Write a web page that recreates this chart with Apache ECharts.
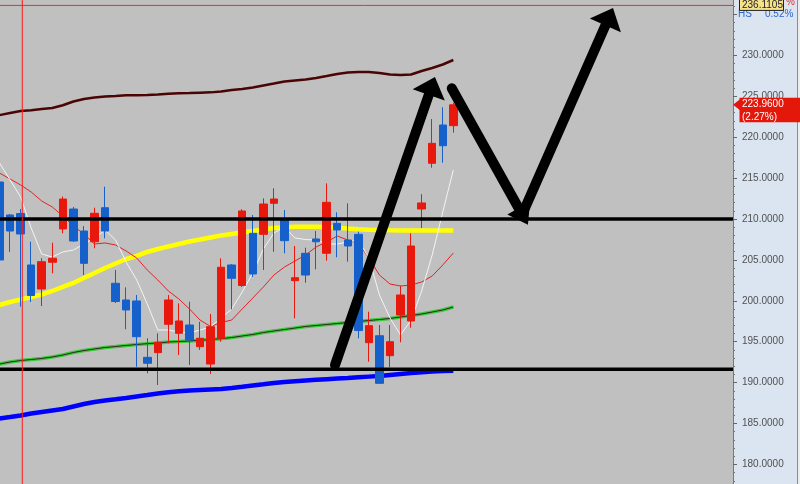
<!DOCTYPE html>
<html><head><meta charset="utf-8">
<script src="https://cdn.jsdelivr.net/npm/echarts@6/dist/echarts.min.js"></script>
<style>
html,body{margin:0;padding:0;background:#dbe5f1;overflow:hidden;width:800px;height:484px}
#c{position:absolute;left:-6px;top:-27px;width:806px;height:540px}
</style>
</head><body><div id="c"></div>
<script>
// ---- data ----
const categories = Array.from({length: 70}, (_, i) => 'D' + (i + 1));
const opens  = [214.52,210.49,210.67,204.38,201.44,204.71,208.78,211.22,208.53,207.22,211.38,202.14,200.10,199.98,193.09,193.66,197.13,196.03,197.04,194.39,192.27,195.42,204.38,201.87,208.25,208.13,211.92,209.88,202.46,205.81,207.56,205.81,209.47,207.43,208.13,194.88,195.73,193.29,198.26,197.53,211.22,216.81,221.49,221.41];
const closes = [204.99,208.53,208.17,200.65,204.78,205.20,212.44,207.31,204.58,210.70,208.53,199.91,198.88,195.61,192.36,194.93,200.10,197.53,195.21,195.42,196.83,204.10,202.75,210.98,203.28,211.83,212.44,207.35,202.82,203.15,207.22,212.04,208.66,206.70,196.36,196.96,189.91,195.00,200.71,206.70,211.96,219.25,218.96,223.96];
const lows   = [204.60,205.97,199.28,199.85,199.36,203.36,208.25,207.22,203.15,206.42,207.64,199.73,196.52,191.94,191.14,189.71,194.80,193.37,192.15,193.99,191.05,195.00,198.96,201.69,202.91,203.77,206.00,205.81,197.86,202.21,203.85,204.90,205.32,204.78,195.42,192.55,189.89,191.87,194.93,196.71,208.90,216.27,216.88,220.55];
const highs  = [215.20,210.61,211.22,207.22,205.20,207.10,212.75,211.47,209.14,211.38,213.95,203.77,201.65,200.71,195.42,196.03,200.71,199.69,199.89,197.44,198.39,205.20,204.50,211.19,210.49,212.53,213.75,211.10,206.70,206.49,208.53,214.36,210.82,211.92,208.45,198.67,197.04,197.04,201.85,208.25,213.03,222.22,223.66,224.22];
const maUpper  = [222.7,222.96,223.2,223.3,223.45,223.57,223.9,224.36,224.67,224.85,224.98,225.04,225.12,225.13,225.16,225.22,225.3,225.37,225.4,225.44,225.48,225.59,225.77,225.9,226.08,226.32,226.56,226.81,226.93,227.05,227.24,227.48,227.73,227.9,227.97,227.97,227.85,227.67,227.6,227.67,228.09,228.46,228.89,229.44];
const maYellow = [199.49,199.85,200.16,200.46,200.77,201.2,201.69,202.18,202.79,203.4,204.01,204.56,205.11,205.48,205.97,206.33,206.64,206.94,207.25,207.49,207.74,207.98,208.17,208.35,208.53,208.72,208.9,208.99,209.05,209.06,209.06,209.02,208.92,208.83,208.75,208.7,208.66,208.62,208.59,208.58,208.58,208.58,208.58,208.58];
const maGreen  = [192.27,192.52,192.7,192.82,192.95,193.13,193.37,193.68,193.92,194.11,194.29,194.41,194.54,194.66,194.76,194.84,194.96,195.02,195.09,195.17,195.27,195.37,195.51,195.7,195.88,196.12,196.31,196.49,196.67,196.86,196.98,197.1,197.22,197.35,197.47,197.59,197.71,197.84,198.02,198.2,198.39,198.63,198.88,199.24];
const maBlue   = [185.61,185.79,185.98,186.22,186.41,186.59,186.77,187.08,187.38,187.63,187.81,187.96,188.12,188.3,188.48,188.67,188.81,188.94,189.03,189.1,189.16,189.22,189.34,189.49,189.65,189.79,189.95,190.07,190.17,190.26,190.34,190.42,190.49,190.56,190.65,190.73,190.81,190.93,191.05,191.17,191.27,191.36,191.42,191.45];
const maRed    = [215.62,214.89,214.16,213.3,212.2,211.47,210.37,209.14,208.17,206.94,207.07,206.82,206.09,205.23,203.77,202.54,201.2,200.22,199.0,197.65,196.86,197.35,197.65,199.0,200.34,201.69,203.15,204.13,204.87,205.6,206.58,207.19,207.92,207.43,207.0,205.23,203.15,202.05,201.81,201.93,202.3,203.03,204.38,205.84];
const maWhite  = [216.85,214.77,212.69,208.9,205.72,205.35,205.97,206.21,206.94,207.68,208.66,207.43,204.74,202.54,199.61,196.43,196.43,196.19,196.06,196.43,196.8,197.9,199.0,201.08,203.4,206.33,208.29,209.02,207.68,207.49,207.43,206.94,206.94,207.19,207.43,205.23,200.71,197.9,195.82,197.65,201.2,205.6,210.86,215.99];
const levelHigh = 210.0;
const levelLow = 191.62;
const alertPrice = 236.1105;
const lastPrice = 223.96;
const lastChange = '(2.27%)';
const markerIndex = 2.16;
const arrowUp1  = [[31.79, 192.15], [41.26, 227.36]];
const arrowDown = [[42.85, 225.98], [50.07, 209.30]];
const arrowUp2  = [[49.50, 210.50], [58.13, 235.79]];
const yTickMin = 175, yTickMax = 240, yTickStep = 5, yLabelMax = 230;

// ---- chart ----
const OX = 6, OY = 27; // container offset relative to the page
const chart = echarts.init(document.getElementById('c'), null, {renderer: 'canvas'});
const candleData = opens.map((o, i) => [o, closes[i], lows[i], highs[i]]);
const nCat = categories.length;
const lineS = (data, color, width, z) => ({type: 'line', data, symbol: 'none', smooth: false, z,
  lineStyle: {color, width}, silent: true, animation: false});
const hline = (v, color, width, z) => ({type: 'line', xAxisIndex: 1, data: [[-0.5, v], [nCat - 0.5, v]],
  symbol: 'none', lineStyle: {color, width}, z, silent: true, animation: false});

chart.setOption({
  animation: false,
  backgroundColor: '#dbe5f1',
  grid: {left: 0.23, right: 67, top: 0.6, bottom: 7.7, show: true, backgroundColor: '#c0c0c0', borderWidth: 0},
  xAxis: [
    {type: 'category', data: categories, boundaryGap: true, show: false},
    {type: 'value', min: -0.5, max: nCat - 0.5, show: false}
  ],
  yAxis: {
    type: 'value', position: 'right', min: yTickMin, max: yTickMax, interval: yTickStep,
    axisLine: {show: true, onZero: false, lineStyle: {color: '#777', width: 1}},
    axisTick: {show: true, length: 4, lineStyle: {color: '#666'}},
    minorTick: {show: true, splitNumber: 5, length: 2, lineStyle: {color: '#777'}},
    splitLine: {show: false},
    axisLabel: {margin: 9, color: '#505050', fontSize: 10, fontFamily: 'Liberation Sans, Arial, sans-serif',
      formatter: v => (v > yLabelMax ? '' : v.toFixed(4))}
  },
  series: [
    lineS(maUpper, '#4a0404', 2.5, 2),
    lineS(maBlue, '#0000ff', 4.5, 2),
    lineS(maGreen, '#3cc83c', 3.5, 2),
    lineS(maGreen, '#2a2a1a', 1, 2),
    lineS(maYellow, '#ffff00', 4.5, 2),
    lineS(maRed, '#e42222', 1, 2),
    lineS(maWhite, '#f4f4f4', 1, 2),
    {type: 'candlestick', data: candleData, barWidth: 8, z: 3, silent: true, animation: false,
      itemStyle: {color: '#e8190c', color0: '#1660cc', borderColor: '#e8190c', borderColor0: '#1660cc', borderWidth: 1}},
    hline(levelHigh, '#000', 3.5, 4),
    hline(levelLow, '#000', 3.5, 4),
    hline(alertPrice, '#e63030', 1, 4),
    {type: 'line', xAxisIndex: 1, data: [[markerIndex, yTickMin], [markerIndex, yTickMax]], symbol: 'none',
      lineStyle: {color: '#ff1a1a', width: 1}, z: 4, silent: true, animation: false}
  ]
});

const px = p => [chart.convertToPixel({xAxisIndex: 1}, p[0]), chart.convertToPixel({yAxisIndex: 0}, p[1])];
function arrow(pts, L, W, lw) {
  const a = px(pts[0]), b = px(pts[1]);
  const dx = b[0] - a[0], dy = b[1] - a[1], len = Math.hypot(dx, dy);
  const ux = dx / len, uy = dy / len, nx = -uy, ny = ux;
  const bx = b[0] - ux * L, by = b[1] - uy * L;
  return [
    {type: 'line', z: 100, shape: {x1: a[0], y1: a[1], x2: bx + ux * 3, y2: by + uy * 3},
      style: {stroke: '#000', lineWidth: lw, lineCap: 'round'}},
    {type: 'polygon', z: 100, shape: {points: [b, [bx + nx * W, by + ny * W], [bx - nx * W, by - ny * W]]},
      style: {fill: '#000'}}
  ];
}
const yLast = px([0, lastPrice])[1];
const yAlert = px([0, alertPrice])[1];
const font = '10px "Liberation Sans", Arial, sans-serif';
const graphics = [].concat(
  arrow(arrowUp1, 19, 17, 10),
  arrow(arrowDown, 19, 13, 10),
  arrow(arrowUp2, 19, 17, 10),
  [
    {type: 'line', z: 50, shape: {x1: 797.5 + OX, y1: 0, x2: 797.5 + OX, y2: 540}, style: {stroke: '#8c8c8c', lineWidth: 1}},
    {type: 'rect', z: 50, shape: {x: 798 + OX, y: 0, width: 4, height: 540}, style: {fill: '#ececec'}},
    {type: 'text', z: 60, style: {x: 786 + OX, y: -3 + OY, text: '%', fill: '#e03030', font: font}},
    {type: 'text', z: 60, style: {x: 738 + OX, y: 9 + OY, text: 'HS', fill: '#2a66d0', font: font}},
    {type: 'text', z: 60, style: {x: 765 + OX, y: 9 + OY, text: '0.52%', fill: '#2a66d0', font: font}},
    {type: 'rect', z: 61, shape: {x: 739.5 + OX, y: yAlert - 7.5, width: 44, height: 12.5},
      style: {fill: '#f6e28c', stroke: '#222', lineWidth: 1}},
    {type: 'text', z: 62, style: {x: 742 + OX, y: yAlert - 5.5, text: alertPrice.toFixed(4), fill: '#222', font: font}},
    {type: 'polygon', z: 61, shape: {points: [[733 + OX, yLast], [740 + OX, yLast - 5.5], [740 + OX, yLast + 5.5]]}, style: {fill: '#e3170a'}},
    {type: 'rect', z: 61, shape: {x: 739.5 + OX, y: yLast - 7, width: 62, height: 24.5}, style: {fill: '#e3170a'}},
    {type: 'text', z: 62, style: {x: 742 + OX, y: yLast - 5.5, text: lastPrice.toFixed(4), fill: '#fff', font: font}},
    {type: 'text', z: 62, style: {x: 742 + OX, y: yLast + 7, text: lastChange, fill: '#fff', font: font}}
  ]
);
chart.setOption({graphic: {elements: graphics}});
</script>
</body></html>
